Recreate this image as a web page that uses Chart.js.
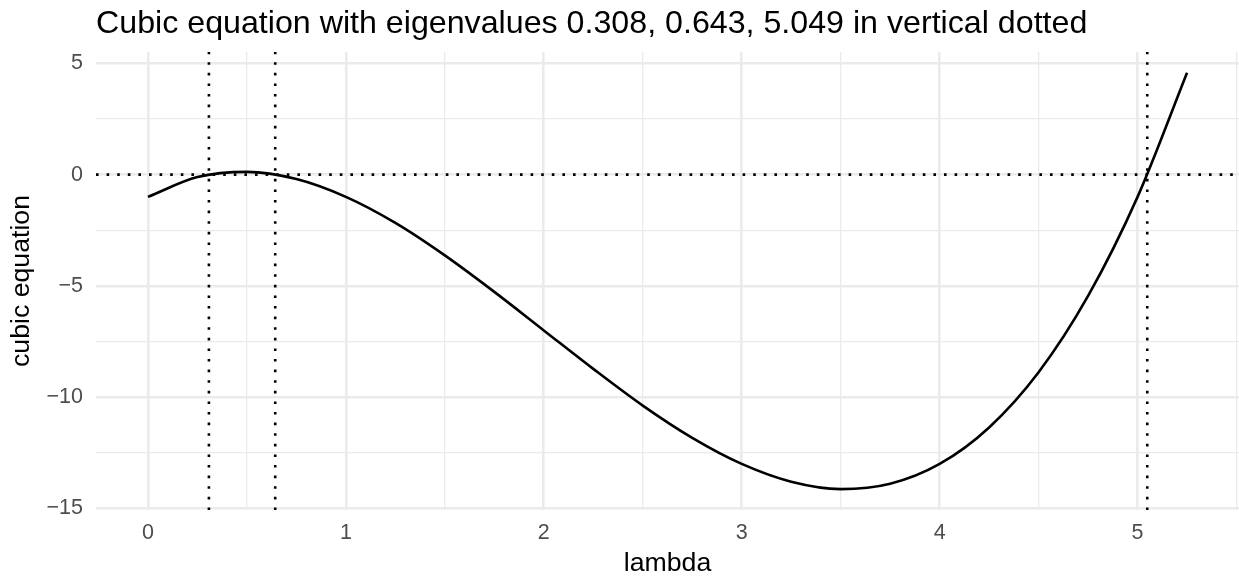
<!DOCTYPE html>
<html>
<head>
<meta charset="utf-8">
<script src="https://cdn.jsdelivr.net/npm/chart.js@4"></script>
<style>
  html, body { margin: 0; padding: 0; background: #fff; }
</style>
</head>
<body>
<canvas id="grafico" width="1239" height="577"></canvas>
<script>
// valores (curva a cada 0.25)
const lambdas = [0, 0.25, 0.5, 0.75, 1, 1.25, 1.5, 1.75, 2, 2.25, 2.5, 2.75, 3, 3.25, 3.5, 3.75, 4, 4.25, 4.5, 4.75, 5, 5.25];
const cubica = [-1, -0.11, 0.125, -0.2, -1, -2.17, -3.63, -5.27, -7, -8.73, -10.38, -11.83, -13, -13.8, -14.13, -13.89, -13, -11.36, -8.88, -5.45, -1, 4.58];
const autovalores = [0.308, 0.643, 5.049];

const xTicks = [0, 1, 2, 3, 4, 5];
const xMinor = [0.5, 1.5, 2.5, 3.5, 4.5, 5.5];
const yTicks = [-15, -10, -5, 0, 5];
const yMinor = [-12.5, -7.5, -2.5, 2.5];
const xLimites = [-0.2625, 5.5125];
const yLimites = [-15.07, 5.51];

const titulo = 'Cubic equation with eigenvalues 0.308, 0.643, 5.049 in vertical dotted';
const fonte = '"Liberation Sans", Arial, Helvetica, sans-serif';

const pontos = lambdas.map((x, i) => ({ x: x, y: cubica[i] }));

// linhas pontilhadas
const pontilhado = { borderColor: '#000', borderWidth: 2.6, borderDash: [2.6, 8], borderCapStyle: 'butt', pointRadius: 0, fill: false };
const datasets = [{
    data: pontos,
    borderColor: '#000',
    borderWidth: 2.6,
    pointRadius: 0,
    cubicInterpolationMode: 'monotone',
    fill: false
}];
autovalores.forEach(v => {
    datasets.push(Object.assign({ data: [{ x: v, y: yLimites[0] }, { x: v, y: yLimites[1] }] }, pontilhado));
});
datasets.push(Object.assign({ data: [{ x: xLimites[0], y: 0 }, { x: xLimites[1], y: 0 }] }, pontilhado));

const tituloPlugin = {
    id: 'tituloPlugin',
    afterDraw(chart) {
        const ctx = chart.ctx;
        ctx.save();
        ctx.font = '32.2px ' + fonte;
        ctx.fillStyle = '#000';
        ctx.textAlign = 'left';
        ctx.textBaseline = 'alphabetic';
        ctx.fillText(titulo, chart.chartArea.left, 32.5);
        ctx.restore();
    }
};

function eixoMaior(lista, v) {
    return lista.includes(v);
}

new Chart(document.querySelector('#grafico'), {
    type: 'line',
    data: { datasets: datasets },
    plugins: [tituloPlugin],
    options: {
        responsive: false,
        animation: false,
        devicePixelRatio: 1,
        layout: { padding: { top: 52, right: 0, left: 0, bottom: 0 } },
        plugins: { legend: { display: false }, tooltip: { enabled: false } },
        scales: {
            x: {
                type: 'linear',
                min: xLimites[0],
                max: xLimites[1],
                afterBuildTicks: s => { s.ticks = xTicks.concat(xMinor).sort((a, b) => a - b).map(v => ({ value: v })); },
                afterFit: s => { s.height = 67; s.paddingLeft = 0; s.paddingRight = 0; },
                border: { display: false },
                grid: {
                    color: '#EBEBEB',
                    drawTicks: false,
                    lineWidth: c => eixoMaior(xTicks, c.tick.value) ? 2.6 : 1.3
                },
                ticks: {
                    autoSkip: false,
                    maxRotation: 0,
                    padding: 10,
                    color: '#4D4D4D',
                    font: { family: fonte, size: 21.5 },
                    callback: v => eixoMaior(xTicks, v) ? String(v) : ''
                },
                title: {
                    display: true,
                    text: 'lambda',
                    color: '#000',
                    font: { family: fonte, size: 26.7, lineHeight: 1 },
                    padding: { top: 0, bottom: 0 }
                }
            },
            y: {
                type: 'linear',
                min: yLimites[0],
                max: yLimites[1],
                afterBuildTicks: s => { s.ticks = yTicks.concat(yMinor).sort((a, b) => a - b).map(v => ({ value: v })); },
                afterFit: s => { s.width = 96; },
                border: { display: false },
                grid: {
                    color: '#EBEBEB',
                    drawTicks: false,
                    lineWidth: c => eixoMaior(yTicks, c.tick.value) ? 2.6 : 1.3
                },
                ticks: {
                    autoSkip: false,
                    padding: 13,
                    color: '#4D4D4D',
                    font: { family: fonte, size: 21.5 },
                    callback: v => eixoMaior(yTicks, v) ? String(v).replace('-', '\u2212') : ''
                },
                title: {
                    display: true,
                    text: 'cubic equation',
                    color: '#000',
                    font: { family: fonte, size: 26.7, lineHeight: 1.2 },
                    padding: { top: 6, bottom: 0 }
                }
            }
        }
    }
});
</script>
</body>
</html>
